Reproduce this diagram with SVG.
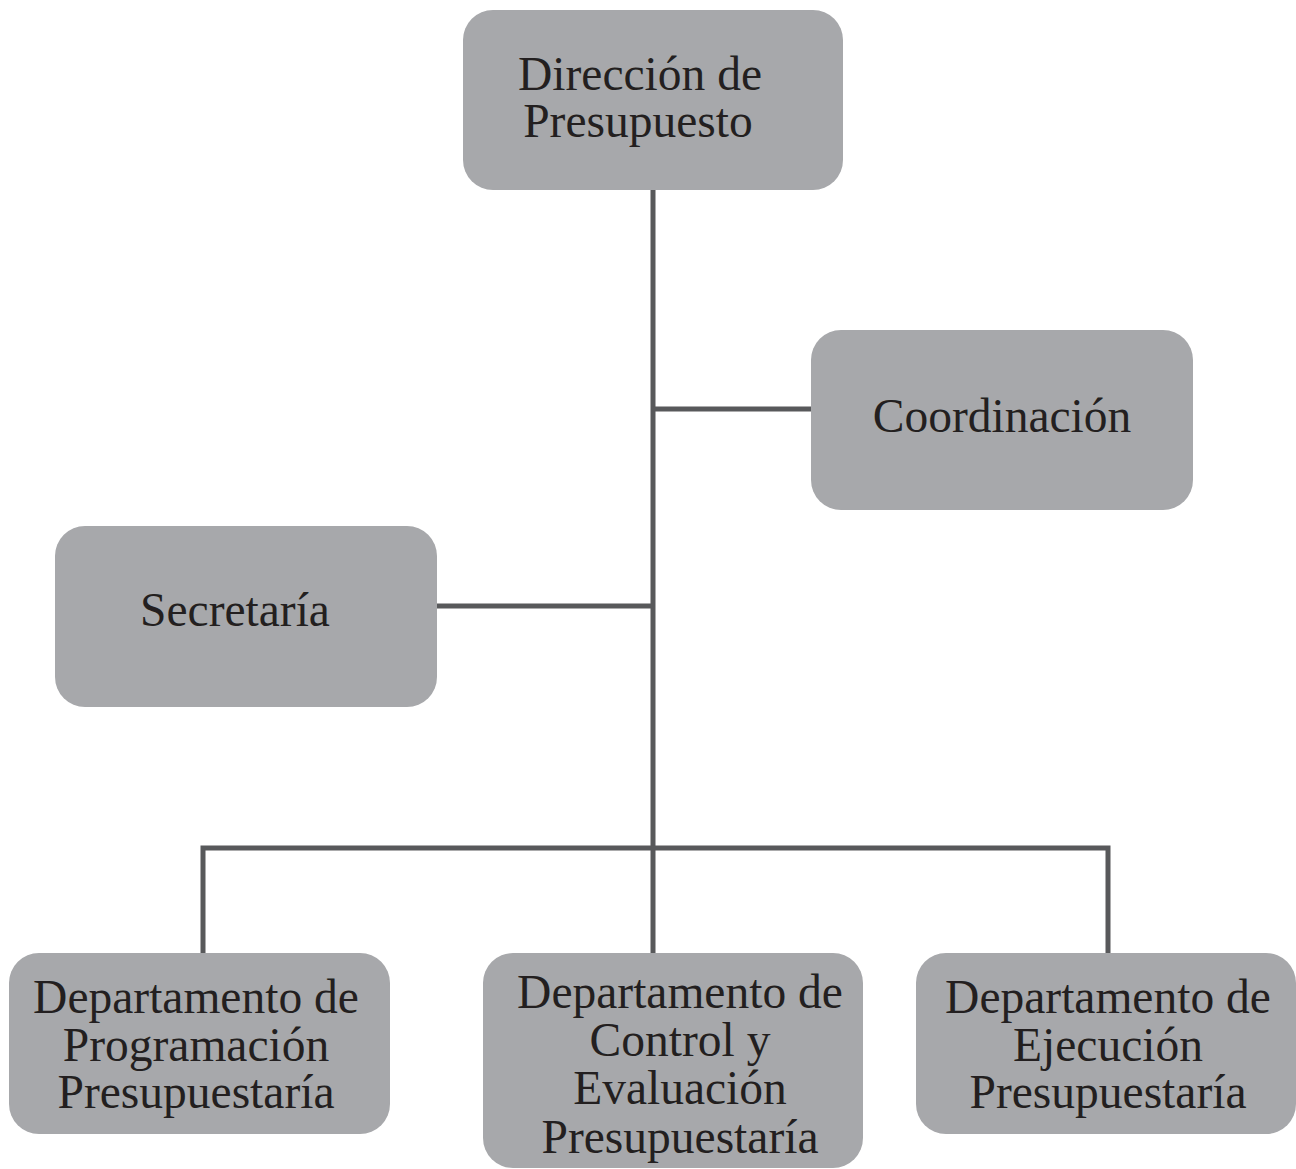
<svg xmlns="http://www.w3.org/2000/svg" width="1296" height="1169" viewBox="0 0 1296 1169">
<style>
.box{fill:#a7a8ab;}
.lbl{font-family:"Liberation Serif","Times New Roman",serif;font-size:47.5px;fill:#231f20;text-anchor:middle;}
.conn{stroke:#58595b;stroke-width:5;fill:none;}
</style>
<rect width="1296" height="1169" fill="#ffffff"/>
<g id="connectors">
<line class="conn" x1="653" y1="188" x2="653" y2="955"/>
<line class="conn" x1="653" y1="409" x2="813" y2="409"/>
<line class="conn" x1="435" y1="606" x2="653" y2="606"/>
<polyline class="conn" points="203,955 203,848 1108,848 1108,955"/>
</g>
<g id="direccion">
<rect class="box" x="463" y="10" width="380" height="180" rx="30"/>
<text class="lbl" x="640" y="90">Dirección de</text>
<text class="lbl" x="638" y="137">Presupuesto</text>
</g>
<g id="coordinacion">
<rect class="box" x="811" y="330" width="382" height="180" rx="30"/>
<text class="lbl" x="1002" y="432">Coordinación</text>
</g>
<g id="secretaria">
<rect class="box" x="55" y="526" width="382" height="181" rx="30"/>
<text class="lbl" x="235" y="626">Secretaría</text>
</g>
<g id="dep-programacion">
<rect class="box" x="9" y="953" width="381" height="181" rx="30"/>
<text class="lbl" x="196" y="1013">Departamento de</text>
<text class="lbl" x="196" y="1061">Programación</text>
<text class="lbl" x="196" y="1108">Presupuestaría</text>
</g>
<g id="dep-control">
<rect class="box" x="483" y="953" width="380" height="215" rx="30"/>
<text class="lbl" x="680" y="1008">Departamento de</text>
<text class="lbl" x="680" y="1056">Control y</text>
<text class="lbl" x="680" y="1104">Evaluación</text>
<text class="lbl" x="680" y="1153">Presupuestaría</text>
</g>
<g id="dep-ejecucion">
<rect class="box" x="916" y="953" width="380" height="181" rx="30"/>
<text class="lbl" x="1108" y="1013">Departamento de</text>
<text class="lbl" x="1108" y="1061">Ejecución</text>
<text class="lbl" x="1108" y="1108">Presupuestaría</text>
</g>
</svg>
